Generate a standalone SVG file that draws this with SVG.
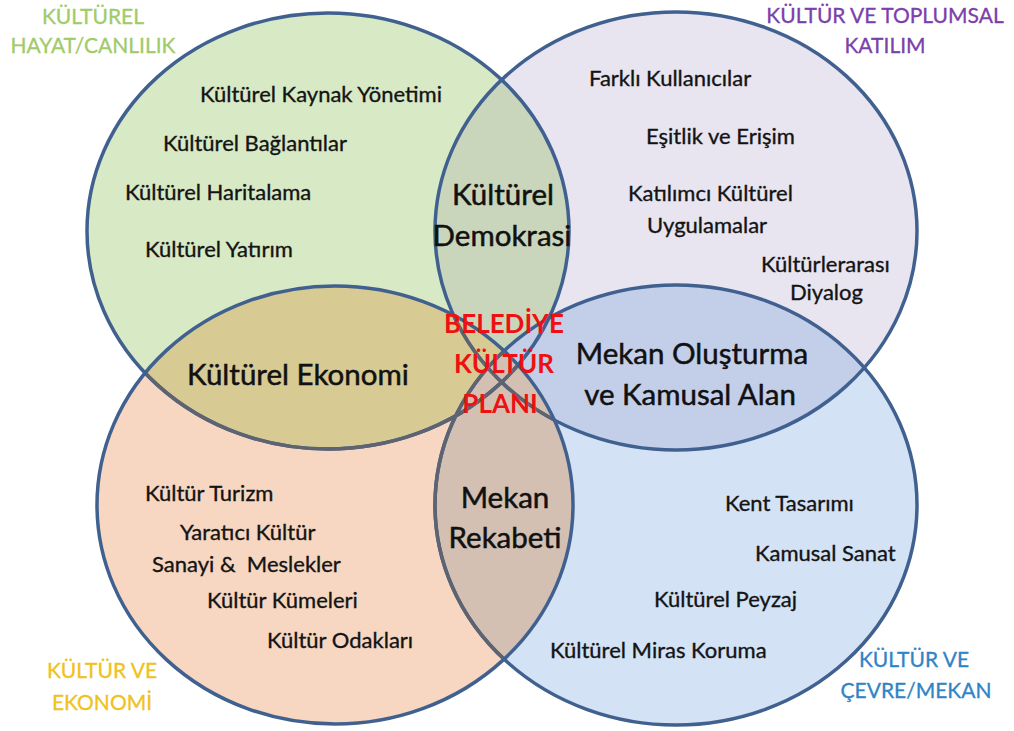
<svg xmlns="http://www.w3.org/2000/svg" width="1014" height="731" viewBox="0 0 1014 731">
<style>
text{font-family:Lato,"Open Sans","Noto Sans",sans-serif;}
.it{font-size:22px;fill:#141414;stroke:#141414;stroke-width:0.35;}
.lens{font-size:29.5px;fill:#111111;stroke:#111111;stroke-width:0.5;text-anchor:middle;}
.ttl{font-size:21px;text-anchor:middle;stroke-width:0.3;}
.red{font-size:26px;font-weight:700;fill:#ee1111;text-anchor:middle;}
.edge{fill:none;stroke:#40618f;stroke-width:3.5;}
.edgeg{fill:none;stroke:#5d6370;stroke-width:3.5;}
</style>
<defs>
<ellipse id="eG" cx="328" cy="231" rx="241" ry="218"/>
<ellipse id="eP" cx="676" cy="231" rx="241" ry="219"/>
<ellipse id="eO" cx="335" cy="505" rx="238" ry="219"/>
<ellipse id="eB" cx="676" cy="505" rx="241" ry="220"/>
<clipPath id="cG"><use href="#eG"/></clipPath>
<clipPath id="cP"><use href="#eP"/></clipPath>
<clipPath id="cO"><use href="#eO"/></clipPath>
<clipPath id="cB"><use href="#eB"/></clipPath>
</defs>
<rect width="1014" height="731" fill="#ffffff"/>
<g id="fills">
<use href="#eG" fill="#d8e9c5"/>
<use href="#eP" fill="#e8e4f0"/>
<use href="#eO" fill="#f7d7c1"/>
<use href="#eB" fill="#d3e2f4"/>
<g clip-path="url(#cG)"><use href="#eP" fill="#cad6bc"/></g>
<g clip-path="url(#cP)"><use href="#eB" fill="#c3cfe9"/></g>
<g clip-path="url(#cG)"><use href="#eO" fill="#d7ca93"/></g>
<g clip-path="url(#cO)"><use href="#eB" fill="#d3c0b2"/></g>
</g>
<g id="edges">
<use href="#eG" class="edge"/>
<use href="#eP" class="edge"/>
<use href="#eB" class="edge"/>
<g clip-path="url(#cO)">
<use href="#eG" class="edgeg"/>
<use href="#eP" class="edgeg"/>
<use href="#eB" class="edgeg"/>
</g>
<use href="#eO" class="edge"/>
</g>
<g id="node-green">
<text class="ttl" fill="#9fcb6a" stroke="#9fcb6a" x="93" y="24">KÜLTÜREL</text>
<text class="ttl" fill="#9fcb6a" stroke="#9fcb6a" x="93" y="53">HAYAT/CANLILIK</text>
<text class="it" x="200" y="102">Kültürel Kaynak Yönetimi</text>
<text class="it" x="163" y="151">Kültürel Bağlantılar</text>
<text class="it" x="125" y="200">Kültürel Haritalama</text>
<text class="it" x="145" y="257">Kültürel Yatırım</text>
</g>
<g id="node-purple">
<text class="ttl" fill="#7b40aa" stroke="#7b40aa" x="885" y="23">KÜLTÜR VE TOPLUMSAL</text>
<text class="ttl" fill="#7b40aa" stroke="#7b40aa" x="885" y="53">KATILIM</text>
<text class="it" x="589" y="86">Farklı Kullanıcılar</text>
<text class="it" x="646" y="144">Eşitlik ve Erişim</text>
<text class="it" x="628" y="201">Katılımcı Kültürel</text>
<text class="it" x="647" y="233">Uygulamalar</text>
<text class="it" x="761" y="272">Kültürlerarası</text>
<text class="it" x="790" y="300">Diyalog</text>
</g>
<g id="node-orange">
<text class="ttl" fill="#f0c21c" stroke="#f0c21c" x="102" y="678">KÜLTÜR VE</text>
<text class="ttl" fill="#f0c21c" stroke="#f0c21c" x="102" y="710">EKONOMİ</text>
<text class="it" x="145" y="501">Kültür Turizm</text>
<text class="it" x="180" y="540">Yaratıcı Kültür</text>
<text class="it" x="152" y="572" xml:space="preserve">Sanayi &amp;  Meslekler</text>
<text class="it" x="207" y="608">Kültür Kümeleri</text>
<text class="it" x="267" y="648">Kültür Odakları</text>
</g>
<g id="node-blue">
<text class="ttl" fill="#2f84c6" stroke="#2f84c6" x="914" y="667">KÜLTÜR VE</text>
<text class="ttl" fill="#2f84c6" stroke="#2f84c6" x="916" y="698">ÇEVRE/MEKAN</text>
<text class="it" x="725" y="511">Kent Tasarımı</text>
<text class="it" x="755" y="561">Kamusal Sanat</text>
<text class="it" x="654" y="607">Kültürel Peyzaj</text>
<text class="it" x="550" y="658">Kültürel Miras Koruma</text>
</g>
<g id="lens-labels">
<text class="lens" x="503" y="205">Kültürel</text>
<text class="lens" x="502" y="246">Demokrasi</text>
<text class="lens" x="298" y="385">Kültürel Ekonomi</text>
<text class="lens" x="692" y="364">Mekan Oluşturma</text>
<text class="lens" x="690" y="405">ve Kamusal Alan</text>
<text class="lens" x="505" y="508">Mekan</text>
<text class="lens" x="505" y="548">Rekabeti</text>
</g>
<g id="center">
<text class="red" x="504" y="333">BELEDİYE</text>
<text class="red" x="504" y="373">KÜLTÜR</text>
<text class="red" x="500" y="413">PLANI</text>
</g>
</svg>
